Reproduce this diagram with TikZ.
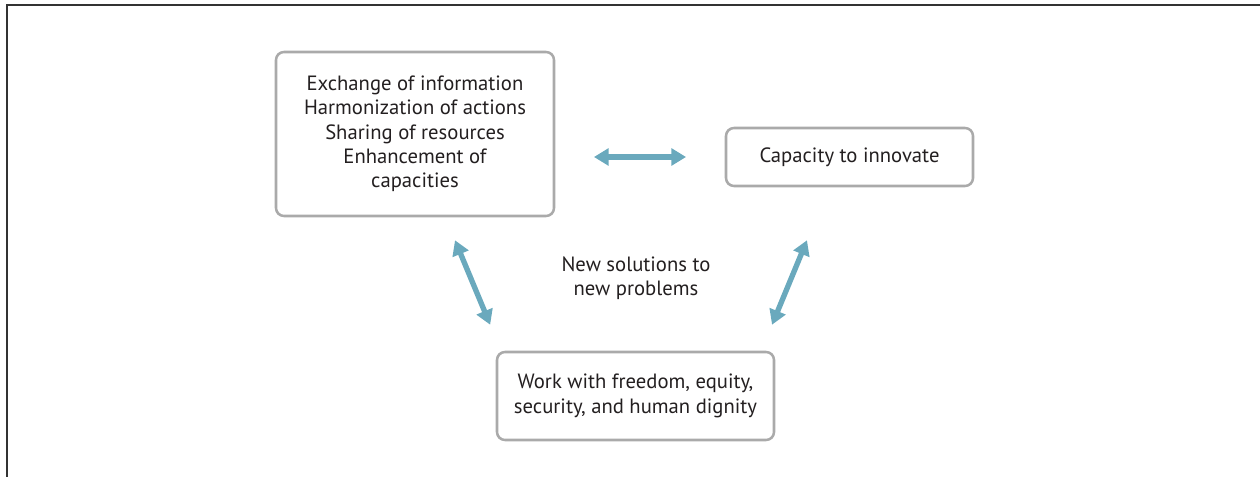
\documentclass[tikz,border=0pt]{standalone}
\usepackage{fontspec}
\setmainfont{PT Sans}
\usetikzlibrary{arrows.meta}
\definecolor{boxgray}{HTML}{AAAAAA}
\definecolor{arrowblue}{HTML}{6AA9BD}
\definecolor{textdark}{HTML}{231F20}
\tikzset{
  box/.style={draw=boxgray, line width=1.9pt, rounded corners=6pt, inner sep=0pt,
    align=center, text=textdark, font=\fontsize{15.5}{18.2}\selectfont},
  biarrow/.style={draw=arrowblue, line width=4pt,
    {Triangle[length=11pt,width=12.5pt]}-{Triangle[length=11pt,width=12.5pt]}}
}
\begin{document}
\begin{tikzpicture}[x=0.75pt,y=-0.75pt]
\useasboundingbox (0,0) rectangle (1260,477);
% Frame
\draw[line width=1.2pt, color=black!80] (1260,5) -- (7,5) -- (7,477);

% Boxes
\node[box, minimum width=208.5pt, minimum height=123pt] (exch) at (415,134)
  {Exchange of information\\Harmonization of actions\\Sharing of resources\\Enhancement of\\capacities};
\node[box, minimum width=185.25pt, minimum height=43.5pt] (innov) at (849.5,157)
  {Capacity to innovate};
\node[box, minimum width=207.75pt, minimum height=66pt] (work) at (635.5,396)
  {Work with freedom, equity,\\security, and human dignity};

\node[align=center, text=textdark, font=\fontsize{15.5}{18.2}\selectfont] (sol) at (636,278)
  {New solutions to\\new problems};

% Arrows
\draw[biarrow, shorten <=29pt, shorten >=29pt] (exch.east |- innov.west) -- (innov.west);
\draw[biarrow] ([xshift=30pt,yshift=-17.25pt]exch.south) -- ([xshift=-109pt,yshift=19.5pt]work.north);
\draw[biarrow] ([xshift=-31.9pt,yshift=-39.75pt]innov.south) -- ([xshift=102.4pt,yshift=19.5pt]work.north);

\end{tikzpicture}
\end{document}
